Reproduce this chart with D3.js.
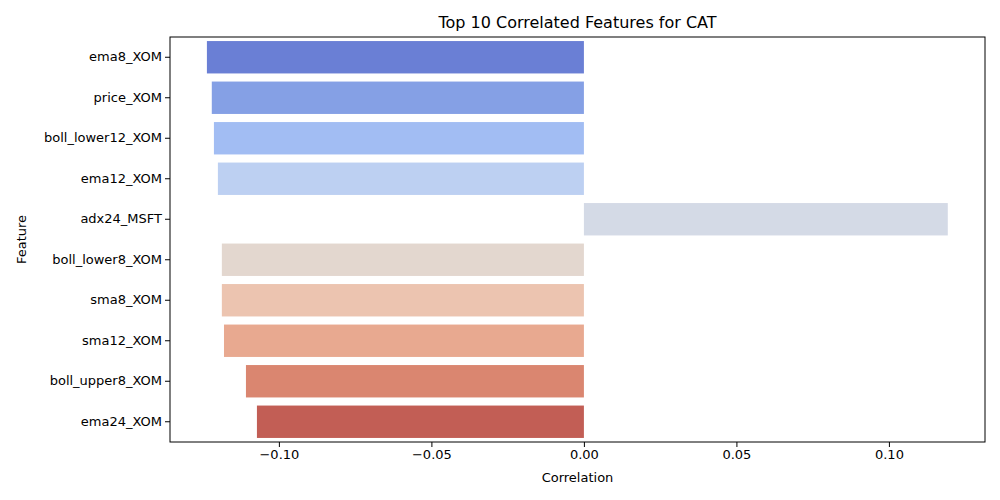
<!DOCTYPE html>
<meta charset="utf-8">
<style>
  body{ margin:0; background:#fff; }
  text{ font-family: "DejaVu Sans", sans-serif; fill:#000; }
</style>
<svg width="1000" height="500"></svg>
<script src="https://d3js.org/d3.v7.min.js"></script>
<script>
  // data
  const features = ['ema8_XOM','price_XOM','boll_lower12_XOM','ema12_XOM','adx24_MSFT',
    'boll_lower8_XOM','sma8_XOM','sma12_XOM','boll_upper8_XOM','ema24_XOM']
  const correlations = [-0.1236,-0.1220,-0.1213,-0.1200,0.1193,-0.1187,-0.1187,-0.1180,-0.1108,-0.1072]
  const colors = ['#6a7fd5','#85a0e5','#a2bdf3','#bdd0f2','#d4dae6','#e3d7cf','#ecc4b0','#e8a990','#da8670','#c25e55']
  const xTicks = [-0.10,-0.05,0.00,0.05,0.10]

  const m = {left:170, right:985, top:37, bottom:442}
  const svg = d3.select('svg')

  const x = d3.scaleLinear().domain([-0.1357,0.1315]).range([m.left,m.right])
  const y = d3.scaleBand().domain(features).range([m.top,m.bottom]).paddingInner(0.2).paddingOuter(0.1)

  svg.selectAll('rect.bar')
    .data(correlations)
    .enter()
    .append('rect')
    .attr('x', d=>x(Math.min(0,d)))
    .attr('width', d=>Math.abs(x(d)-x(0)))
    .attr('y', (d,i)=>y(features[i]))
    .attr('height', y.bandwidth())
    .attr('fill', (d,i)=>colors[i])

  // axes
  const xAxis = svg.append('g')
    .attr('transform', 'translate(0,'+m.bottom+')')
    .call(d3.axisBottom(x).tickValues(xTicks).tickFormat(d3.format('.2f')).tickSize(5).tickSizeOuter(0))
  const yAxis = svg.append('g')
    .attr('transform', 'translate('+m.left+',0)')
    .call(d3.axisLeft(y).tickSize(5).tickSizeOuter(0))
  svg.selectAll('.tick text').style('font-size','13px').style('font-family','DejaVu Sans')
  xAxis.selectAll('.tick text').text(d=>d3.format('.2f')(d).replace('-','\u2212'))
  svg.selectAll('.domain').remove()

  // frame
  svg.append('rect')
    .attr('x', m.left).attr('y', m.top)
    .attr('width', m.right-m.left).attr('height', m.bottom-m.top)
    .attr('fill','none').attr('stroke','#000').attr('stroke-width',1)

  svg.append('text').attr('x',(m.left+m.right)/2).attr('y',28)
    .attr('text-anchor','middle').style('font-size','16px')
    .text('Top 10 Correlated Features for CAT')
  svg.append('text').attr('x',(m.left+m.right)/2).attr('y',482)
    .attr('text-anchor','middle').style('font-size','13px').text('Correlation')
  svg.append('text').attr('transform','translate(26,'+((m.top+m.bottom)/2)+') rotate(-90)')
    .attr('text-anchor','middle').style('font-size','13px').text('Feature')
</script>
